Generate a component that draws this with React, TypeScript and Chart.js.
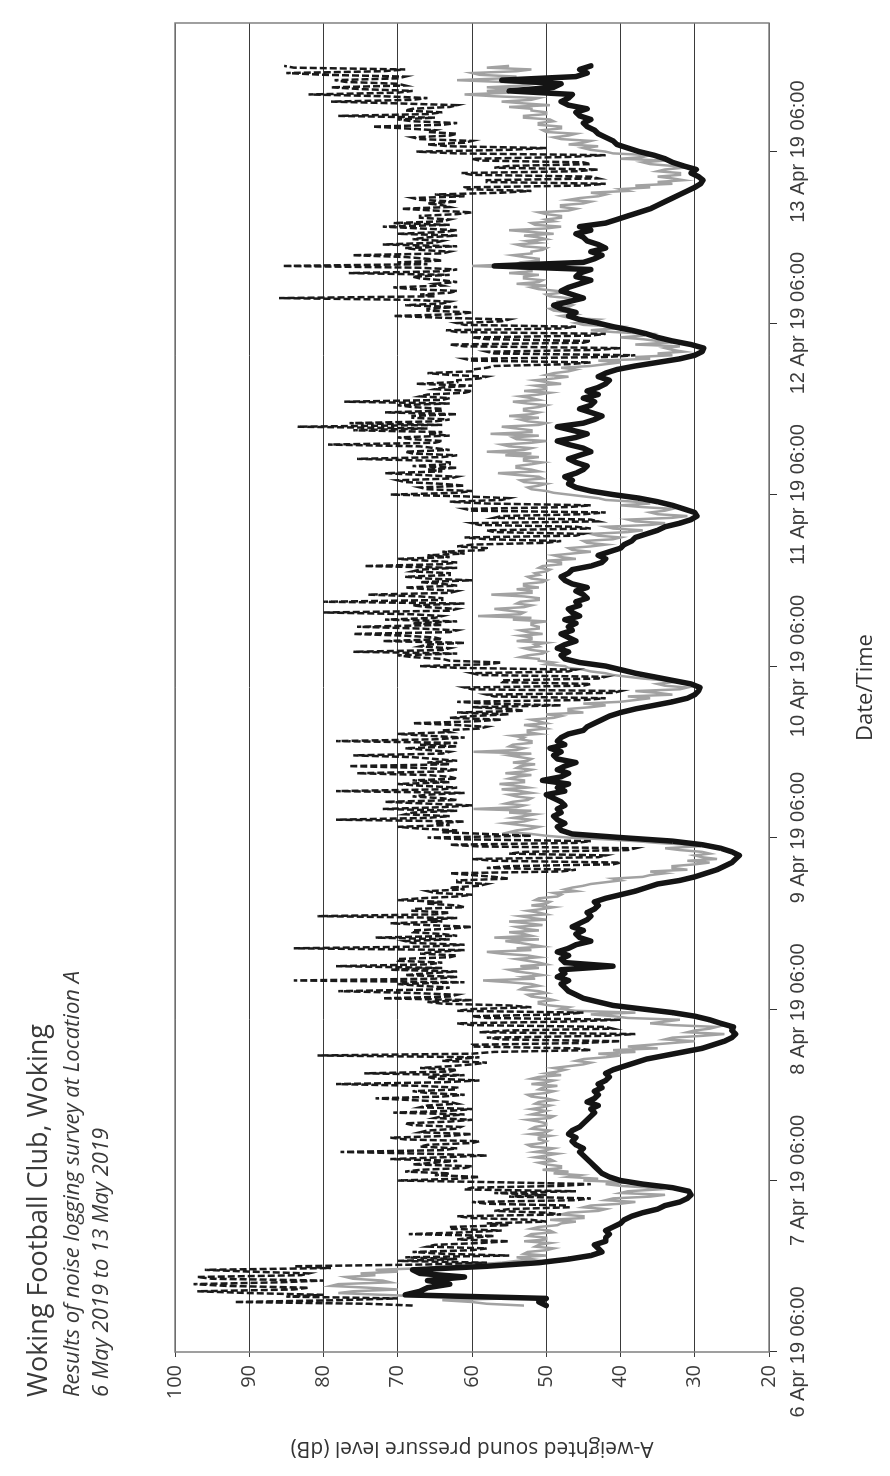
import { useEffect, useRef } from 'react';
import { Chart, registerables } from 'chart.js';

Chart.register(...registerables);

// Time axis: hours after 6 Apr 2019 06:00. Logging starts 12:30 on 6 Apr.
const START_HOUR = 6.5;
const STEP_FINE = 0.25; // LAeq and LAFMax: 15-minute samples
const STEP_COARSE = 0.5; // LA90: 30-minute samples
const X_MIN = 0;
const X_MAX = 186;

const DAY_TICKS = [0, 24, 48, 72, 96, 120, 144, 168];
const DAY_LABELS = [
  '6 Apr 19 06:00', '7 Apr 19 06:00', '8 Apr 19 06:00', '9 Apr 19 06:00',
  '10 Apr 19 06:00', '11 Apr 19 06:00', '12 Apr 19 06:00', '13 Apr 19 06:00',
];

const DB_MIN = 20;
const DB_MAX = 100;
const DB_STEP = 10;

// LA90 (thick black), 30-minute values
const LA90 = [
  50,
  51,50, 69,67, 66,63, 66,61, 67,68, 58,51,
  47,44, 42.5,43, 43.5,42, 42,41.5, 42,41, 40,39.5,
  38.5,37, 35,34, 32,31, 30.5,30.8, 33,37, 40,41.5,
  42.5,43, 43.5,44, 44.5,45, 45.5,45, 46,46.5, 46,47,
  46.5,45.5, 45,44.5, 44,43.5, 44,43, 44.5,43.5, 43,43.5,
  42.5,43, 42,41.5, 42,41, 39.5,38, 36.5,34, 31.5,29,
  27.5,26, 25,24.5, 25,24.8, 26.5,28, 30,33, 37,41,
  43,45, 46,47, 47.5,48, 47,48.5, 47.5,48, 41,47.5,
  48,47, 48.5,47, 46,44, 45.5,46, 45,46.5, 45.5,44.5,
  44,44.5, 43.5,43, 43.5,42, 40,38, 36.5,35, 32,30,
  28.5,27, 26,25, 24.5,24, 25,26.5, 29,33, 40,46.5,
  48,48.5, 47.5,48.5, 49,48, 48.5,47.5, 48,49, 50,47.5,
  48.5,47, 50.5,48, 47,48.5, 47.5,46, 48.5,49, 48,49.5,
  47.5,48.5, 48,47, 45,44.5, 43.5,42.5, 41.5,40, 38,35.5,
  33,31, 30,29.5, 29.3,30.5, 33,35.5, 38,40, 42,45.5,
  47.5,48, 47,48.5, 47.5,46, 47,48, 46.5,47, 46,47.5,
  45.5,46.5, 47,45.5, 46,44.5, 45,46, 44.5,46.5, 47.5,48,
  47,46.5, 44,42.5, 42,43, 41.5,40, 39.5,38.5, 38,36.5,
  35,34, 32,30.5, 29.7,30, 31.5,33, 35,37.5, 41,44,
  46,47, 46.5,47.5, 46,45, 44.5,46, 47,45.5, 44,45,
  47,48.5, 46,44.5, 46.5,48.5, 45,43.5, 42.5,44, 45.5,44,
  43.5,45, 43,44.5, 43,42, 41.5,43, 42,40.5, 38,35,
  32,30, 29,28.8, 30.5,33, 35,36.5, 38.5,41, 43,45.5,
  47,46, 48,49, 47,45, 46.5,48, 47,45.5, 44,46,
  45.5,44, 57,45, 43.5,42.5, 44,42, 43,44.5, 45,46,
  44,45.5, 42,40.5, 39,37.5, 36,35, 34,33, 32,31,
  30,29.2, 28.9,29.5, 30.5,29.8, 31.5,33, 34,35.5, 37.5,39,
  40.5,41, 42,43, 43.5,44.5, 45,44, 45.5,46, 44.5,47,
  48,47, 46.5,55, 49,48, 56,46, 44.5,45.5,
  44,
];

// LAeq (grey), 15-minute values
const LAEQ = [
  53,58,
  60,64,55,66, 72,78,76,70, 74,79,78,71, 72,76,77,73, 75,70,73,66, 63,60,56,54,
  52,54,50,53, 52.5,50,49,51.5, 51,49.5,53,50, 50,52.5,52,49, 49.5,52,51,48.5, 48,46,49.5,45,
  45,48,47,43, 42,45,44,40, 38,42,41,36, 34,40,39,35, 36,40,42,39, 45,43,47,45.5,
  49,47,50.5,48, 48,50,51,49, 49.5,51.5,50,48.5, 51.5,50,49,52, 52.5,50.5,50,51, 51,49.5,52,50,
  49.5,52,51.5,50, 50,51,52.5,49.5, 49,52,51,50, 52,50.5,49.5,51.5, 51,49,50,52, 52.5,50,49,51,
  50.5,48.5,52,50, 49,52,51,48, 50,48.5,47.5,49, 47,45,44,46, 45,42,40,43, 38,41,35,39,
  36,33,30,34, 33,29,26,31, 30,28,27,33, 36,34,32,39, 41,44,38,46, 48,47,49.5,51,
  51,49,50,52, 52.5,50,51,53.5, 53,51,52,55, 58.5,51.5,53,50.5, 52,54,55,51, 53.5,50,51,52.5,
  54,51,52.5,56, 58,52,54,50.5, 52,53.5,55.5,51, 57,52,53,55, 51,53,54,50.5, 52.5,55,50,52,
  53.5,50,51,52.5, 50.5,49,52,50, 49.5,51.5,51,48.5, 48,49,46,47.5, 46.5,45,44,42, 40,41,37,36,
  34,36,31,33, 33,30,28,31, 27,29,30,28, 29,32,34,30, 31,35,38,42, 47,50,52,55,
  54,52,51,53.5, 55.5,53,52,54.5, 53,51.5,55,52, 59.8,54,53,55.5, 54.5,52.5,52,54, 55,52,53.5,56,
  52.5,54,56.3,53, 53,55,54,52, 55.5,53,52,54, 53.5,51.5,54.5,52.5, 52,53.5,55,52, 59.8,54,53,55,
  54.5,52,52,53.5, 53,54.5,51,52.5, 52.5,50,51,53, 50,51,52,49, 48,50,45,47, 47,44,42,45,
  40,38,36,39, 33,35,38,32, 31,34,35,33, 34,37,39,41, 42,44,45,47, 47.5,50,49,51,
  51,53.5,52.5,50.5, 50,52,53,51, 51.5,50,54,52, 52,53.5,50.5,52.5, 53.5,51,51,52, 52,50,54.5,52,
  59.2,53.5,53,55, 57,53,52,54, 53.5,51,51,53, 57.4,52,52,54, 51,53,53,50.5, 50,52,52.5,51,
  51.5,50,49.5,51, 50.5,48,48,50, 46,48,49,46.5, 44,46.5,47,44, 42,44.5,45,41, 40,43,44,39,
  37,41,42,36, 34,38,39,33, 31,35,36,34, 33,37,40,36, 38,42,43,45, 47,49,50,52,
  52.5,51,50,53, 53.5,50.5,51,54, 56.5,51,52,54, 54,52,50.5,53, 53,51,55.5,52, 58,53,52,55,
  56,52,50,54, 54.5,51,57.5,52, 52,54,56,51, 50,52.5,53.5,51, 55,52,51,53, 53,51,50,52.5,
  54.5,51,52,53.5, 51,49.5,53,50, 50,51.5,48,50, 51.5,49,47,50, 49,47,46,48, 44,42,40,43,
  36,38,33,35, 31.5,33,34,32, 38,34,35,37, 40,37,36,41, 44,41,40,45, 46,44,43,47,
  48,46,47,49, 49.5,47,46.5,48.5, 48.5,46,47,49.5, 50,48,48.5,51, 52,50,54,51, 50.5,53,53,51,
  55,52,52,54, 60,54,53.5,51, 51,53,54.5,52, 52,50.5,50,53, 54,51,52.5,50, 51,53,49,52,
  55,50,48,51.5, 52,49,50,48, 48,50,51,47, 46,48,48,45, 44,47,45.5,43, 42,44,39,40,
  36,38,33,35, 31.5,33,35,32, 32,35,34,31.5, 33,36,37,34, 40,37,36,41, 42,44,45,43,
  47,45,44,48, 49,47,46,50, 50.5,48,48,51, 51,49,49.5,53, 53,50,50,52, 52,55,49.5,53,
  56,52,51,57, 61,55,58,54, 58,53,51.5,56, 62,56,54,59, 60,54,52,58,
  55,
];

// LAFMax (black dashed), 15-minute values
const LAFMAX = [
  68,74,
  92,78,70,85, 80,90,97,84, 82,93,97.5,86, 80,95,97,83, 82,90,96,79, 84,66,58,70,
  62,69,55,64, 68,60,58,66, 65,59,55,62, 60,57,68.5,61, 56,63,63,55, 58,50,52,60,
  62,48,50,57, 55,47,47,58, 60,46,44,55, 50,57,46,61, 60,48,44,56, 70,62,59,65,
  63,69,67,61, 60,68,65,62, 71,64,58,66, 77.7,64,62,67, 66,60,59,69, 71,63,60,67,
  66,62,61.5,68, 69,63,60,65, 64,61,70.6,63, 60,67,66,62, 63,68,73,64, 61,66,68,62,
  62,67,78.3,64, 59,65,66,61, 74.5,63,62,67, 63,60,58,64, 62,59,80.8,60, 57,44,46,60,
  60,45,40,56, 58,42,38,59, 55,41,42,60, 62,47,40,58, 60,48,45,62, 60,52,55,64,
  66,60,72,63, 62,68,78,65, 63,67,70,61, 84,65,62,69, 66,62,71,64, 78.3,66,64,70,
  70,63,62,67, 65,61,84,66, 61,68,69,63, 73,62,64,68, 68,63,60,66, 71,64,66,62,
  80.8,65,63,68, 68,61,62,66, 64,70,67,62, 60,65,66,61, 63,59,58,62, 62,55,57,60,
  63,48,46,58, 55,41,40,57, 60,43,42,55, 53,39,38,59, 63,46,44,61, 66,52,58,64,
  62,67,70,63, 65,61,78.3,66, 63,69,68,62, 72,64,60,66, 71.7,62,64,68, 66,61,78.3,64,
  62,67,70,63, 68,62,63,66, 75.5,64,62,67, 76.6,63,66,62, 65,68,76,64, 63,66,69,62,
  67,62,78.3,65, 61,66,70,63, 64,59,58,62, 68,60,56,63, 60,55,62,53, 55,60,48,58,
  62,45,42,57, 58,41,40,60, 61,45,44,56, 56,43,42,59, 60,47,46,62, 67,58,56,63,
  64,68,70,62, 76,64,63,67, 66,61,72,64, 65,69,76,63, 62,67,75.5,64, 68,62,71.7,65,
  64,68,80,63, 62,66,68,61, 80,64,64,67, 74,63,62,66, 69,62,64,67, 60,66,69,63,
  63,68,67,62, 74.5,64,62,66, 70,63,66,61, 64,58,58,62, 60,50,48,58, 61,46,45,57,
  58,44,46,59, 60,43,44,57, 56,45,42,60, 61,47,44,58, 63,56,55,61, 71,62,60,66,
  67,61,64,69, 70,63,62,67, 71.7,64,66,62, 68,63,63,66, 75.5,64,62,68, 69,63,65,67,
  79.4,65,64,68, 70,63,66,64, 76,66,83.5,64, 76.5,65,63,68, 68,62,71.7,64, 64,68,70,63,
  77.2,64,63,67, 66,61,60,65, 64,60,67.5,62, 62,59,58,63, 66,60,60,58, 57,47,44,60,
  61,42,38,57, 58,43,40,61, 63,45,44,58, 60,44,42,62, 63.5,48,46,61, 62,56,55,64,
  70.6,62,60,66, 66,62,69,64, 63,68,86,65, 67,63,62,68, 70.6,64,65,62, 64,67,68,63,
  76.6,64,62,67, 85.5,66,70,64, 66,69,76.1,64, 63,67,69,62, 72,65,64,68, 66,62,70,64,
  62,67,72,63, 70.6,64,63,67, 67,62,60,65, 69.5,63,64,66, 62,67,68,61, 65,56,52,61,
  61,45,42,58, 58,43,44,60, 61.4,46,43,57, 55,44,45,59, 60,47,42,62, 67.5,55,50,63,
  66,61,60,67, 68,63,62,66, 65,69,73.4,64, 62,68,70,65, 78,66,64,69, 68,63,62,70,
  79,68,66,72, 82,70,68,75, 79,69,70,77, 78.5,70,69,80, 85,72,69,84,
  85.3,
];

const toPoints = (values: number[], step: number) =>
  values.map((v, i) => ({ x: START_HOUR + i * step, y: v }));

const W = 1476;
const H = 890;

const boxPlugin = {
  id: 'plotBox',
  afterDatasetsDraw(chart: any) {
    const { ctx, chartArea: a } = chart;
    ctx.save();
    ctx.strokeStyle = '#808080';
    ctx.lineWidth = 1.5;
    ctx.strokeRect(a.left, a.top, a.right - a.left, a.bottom - a.top);
    ctx.restore();
  },
};

export default function App() {
  const ref = useRef<HTMLCanvasElement>(null);

  useEffect(() => {
    const canvas = ref.current;
    if (!canvas) return;
    const chart = new Chart(canvas, {
      type: 'line',
      data: {
        datasets: [
          {
            label: 'LAFMax',
            data: toPoints(LAFMAX, STEP_FINE),
            borderColor: '#1a1a1a',
            borderWidth: 2.5,
            borderDash: [7, 3],
            pointRadius: 0,
            tension: 0,
            order: 0,
          },
          {
            label: 'LA90',
            data: toPoints(LA90, STEP_COARSE),
            borderColor: '#141414',
            borderWidth: 5.5,
            pointRadius: 0,
            tension: 0,
            borderJoinStyle: 'round',
            borderCapStyle: 'round',
            order: 1,
          },
          {
            label: 'LAeq',
            data: toPoints(LAEQ, STEP_FINE),
            borderColor: '#a2a2a2',
            borderWidth: 2.5,
            pointRadius: 0,
            tension: 0,
            order: 2,
          },
        ],
      },
      options: {
        animation: false,
        responsive: false,
        layout: { padding: { top: 175, right: 23, left: 0, bottom: 0 } },
        plugins: {
          legend: { display: false },
          tooltip: { enabled: false },
          title: { display: false },
        },
        scales: {
          x: {
            type: 'linear',
            min: X_MIN,
            max: X_MAX,
            afterBuildTicks: (s: any) => {
              s.ticks = DAY_TICKS.map((v) => ({ value: v }));
            },
            afterFit: (s: any) => {
              s.height = 121;
            },
            ticks: {
              autoSkip: false,
              maxRotation: 0,
              minRotation: 0,
              padding: 9,
              color: '#3c3c3c',
              font: { family: '"Liberation Sans", Arial, sans-serif', size: 20 },
              callback: (v: any) => {
                const i = DAY_TICKS.indexOf(Number(v));
                return i >= 0 ? DAY_LABELS[i] : '';
              },
            },
            grid: {
              drawOnChartArea: false,
              drawTicks: true,
              tickLength: 8,
              color: '#333333',
              lineWidth: 1,
            },
            border: { display: false },
            title: {
              display: true,
              text: 'Date/Time',
              color: '#333333',
              font: { family: '"Open Sans", sans-serif', size: 22 },
              padding: { top: 0, bottom: 11 },
            },
          },
          y: {
            type: 'linear',
            min: DB_MIN,
            max: DB_MAX,
            afterFit: (s: any) => {
              s.width = 124;
            },
            ticks: {
              stepSize: DB_STEP,
              padding: 8,
              color: '#3c3c3c',
              font: { family: '"Open Sans", sans-serif', size: 20 },
            },
            grid: {
              color: '#3a3a3a',
              lineWidth: 1,
              drawTicks: true,
              tickLength: 5,
            },
            border: { display: false },
            title: {
              display: true,
              text: 'A-weighted sound pressure level (dB)',
              color: '#333333',
              font: { family: '"Open Sans", sans-serif', size: 21 },
              padding: { top: 15, bottom: 0 },
            },
          },
        },
      },
      plugins: [boxPlugin],
    } as any);
    return () => chart.destroy();
  }, []);

  const titleBase: React.CSSProperties = {
    position: 'absolute',
    left: 79,
    whiteSpace: 'nowrap',
    color: '#3a3a3a',
    fontFamily: '"Open Sans", sans-serif',
  };

  return (
    <div
      style={{
        position: 'absolute',
        left: 0,
        top: 0,
        width: H,
        height: W,
        overflow: 'hidden',
        background: '#ffffff',
      }}
    >
      <div
        style={{
          position: 'absolute',
          left: 0,
          top: 0,
          width: W,
          height: H,
          transformOrigin: '0 0',
          transform: `translateY(${W}px) rotate(-90deg)`,
          background: '#ffffff',
        }}
      >
        <canvas
          ref={ref}
          width={W}
          height={H}
          style={{ position: 'absolute', left: 0, top: 0, width: W, height: H }}
        />
        <div style={{ ...titleBase, top: 23.3, fontSize: 27, lineHeight: '27px' }}>
          Woking Football Club, Woking
        </div>
        <div style={{ ...titleBase, top: 59.2, fontSize: 22, lineHeight: '22px', fontStyle: 'italic' }}>
          Results of noise logging survey at Location A
        </div>
        <div style={{ ...titleBase, top: 88.2, fontSize: 22, lineHeight: '22px', fontStyle: 'italic' }}>
          6 May 2019 to 13 May 2019
        </div>
      </div>
    </div>
  );
}
